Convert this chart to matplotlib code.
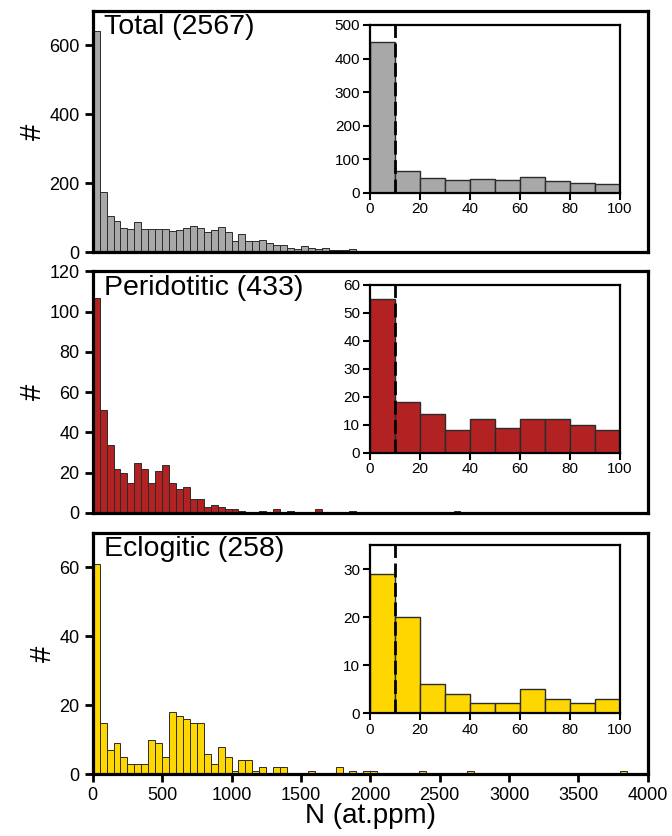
import numpy as np
import matplotlib.pyplot as plt

plt.rcParams['font.family'] = ['Liberation Sans', 'DejaVu Sans']

# 50 at.ppm bins starting at 0
bin_width = 50

total_counts = [641, 176, 107, 91, 72, 67, 87, 69, 69, 69,
                67, 61, 66, 72, 77, 72, 58, 64, 74, 58,
                34, 53, 33, 33, 36, 27, 21, 21, 14, 10,
                18, 13, 11, 13, 8, 6, 6, 11, 5, 5,
                2, 1, 0, 0, 0, 3, 0, 1, 0, 0,
                0, 3]
perid_counts = [107, 51, 34, 22, 20, 15, 25, 22, 15, 21,
                24, 15, 12, 13, 7, 7, 3, 4, 3, 2,
                2, 1, 0, 0, 1, 0, 2, 0, 1, 0,
                0, 0, 2, 0, 0, 0, 0, 1, 0, 0,
                0, 0, 0, 0, 0, 0, 0, 0, 0, 0,
                0, 0, 1]
eclog_counts = [61, 15, 7, 9, 5, 3, 3, 3, 10, 9,
                5, 18, 17, 16, 15, 15, 6, 3, 8, 5,
                1, 4, 4, 1, 2, 0, 2, 2, 0, 0,
                0, 1, 0, 0, 0, 2, 0, 1, 0, 1,
                1, 0, 0, 0, 0, 0, 0, 1, 0, 0,
                0, 0, 0, 0, 1, 0, 0, 0, 0, 0,
                0, 0, 0, 0, 0, 0, 0, 0, 0, 0,
                0, 0, 0, 0, 0, 0, 1]

# zoom on 0-100 at.ppm, 10 at.ppm bins
inset_width = 10
total_inset = [450, 66, 43, 38, 41, 38, 46, 35, 30, 26]
perid_inset = [55, 18, 14, 8, 12, 9, 12, 12, 10, 8]
eclog_inset = [29, 20, 6, 4, 2, 2, 5, 3, 2, 3]

labels = ['Total (2567)', 'Peridotitic (433)', 'Eclogitic (258)']
colors = ['#a8a8a8', '#b22222', '#ffd700']
main_ylim = [700, 120, 70]
main_yticks = [[0, 200, 400, 600], [0, 20, 40, 60, 80, 100, 120], [0, 20, 40, 60]]
inset_ylim = [500, 60, 35]
inset_yticks = [[0, 100, 200, 300, 400, 500], [0, 10, 20, 30, 40, 50, 60], [0, 10, 20, 30]]
cutoff = 10

main_data = [total_counts, perid_counts, eclog_counts]
inset_data = [total_inset, perid_inset, eclog_inset]

fig = plt.figure(figsize=(6.72, 8.36), dpi=100)

bottoms = [0.698, 0.3864, 0.0738]
inset_bottoms = [0.7695, 0.4585, 0.1471]

for i in range(3):
    ax = fig.add_axes([0.138, bottoms[i], 0.826, 0.289])
    counts = np.array(main_data[i])
    edges = np.arange(len(counts)) * bin_width
    ax.bar(edges, counts, width=bin_width, align='edge', color=colors[i],
           edgecolor='#2b2b2b', linewidth=0.7)
    ax.set_xlim(0, 4000)
    ax.set_ylim(0, main_ylim[i])
    ax.set_yticks(main_yticks[i])
    ax.set_xticks(np.arange(0, 4001, 500))
    for s in ax.spines.values():
        s.set_linewidth(2.3)
    ax.tick_params(direction='out', width=2, length=6, labelsize=13)
    if i < 2:
        ax.tick_params(axis='x', length=0, labelbottom=False)
    else:
        ax.set_xlabel('N (at.ppm)', fontsize=20, labelpad=-1)
    ax.set_ylabel('#', fontsize=21, labelpad=2)
    ax.text(0.02, 0.985, labels[i], transform=ax.transAxes, fontsize=20.5,
            ha='left', va='top')

    ins = fig.add_axes([0.5506, inset_bottoms[i], 0.372, 0.2006])
    vals = np.array(inset_data[i])
    iedges = np.arange(len(vals)) * inset_width
    ins.bar(iedges, vals, width=inset_width, align='edge', color=colors[i],
            edgecolor='#2b2b2b', linewidth=1.0)
    ins.axvline(cutoff, color='black', linestyle='--', linewidth=2,
                dashes=(5, 2))
    ins.set_xlim(0, 100)
    ins.set_ylim(0, inset_ylim[i])
    ins.set_yticks(inset_yticks[i])
    ins.set_xticks(np.arange(0, 101, 20))
    for s in ins.spines.values():
        s.set_linewidth(1.6)
    ins.tick_params(direction='out', width=1.5, length=5, labelsize=11, pad=2)

fig.savefig('out.png', dpi=100)
